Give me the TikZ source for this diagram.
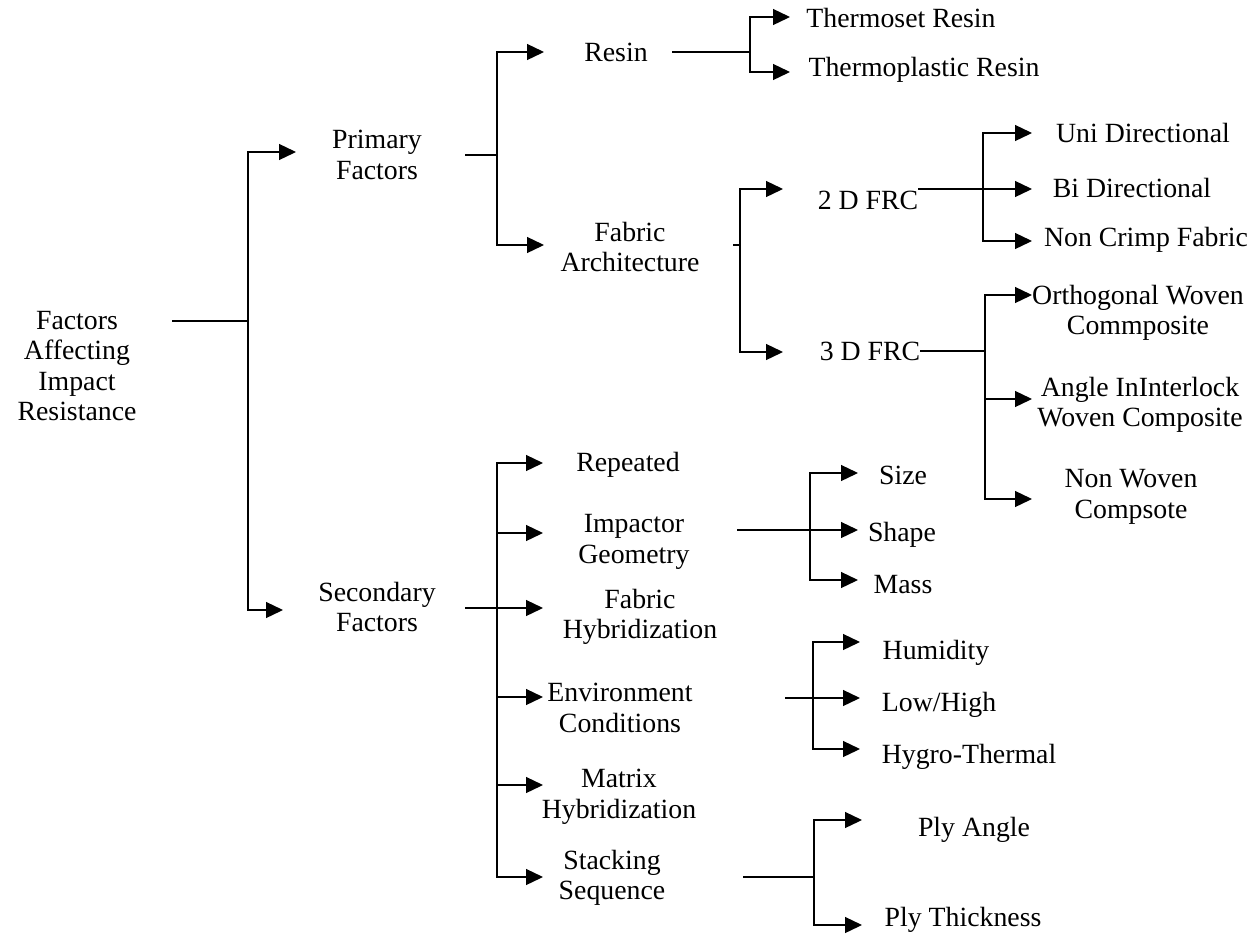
\documentclass[tikz,border=0pt]{standalone}
\usepackage{fontspec}
\setmainfont{Liberation Serif}
\usetikzlibrary{arrows.meta}
\begin{document}
\begin{tikzpicture}[x=1pt,y=-1pt,
  lbl/.style={font=\fontsize{27.8}{30.5}\selectfont, align=center, inner sep=0pt},
  conn/.style={line width=1.3pt, line join=miter},
  arr/.style={conn, -{Triangle[length=17pt,width=16pt]}}]
\useasboundingbox (0,0) rectangle (1251,935);

% ---------- nodes ----------
\node[lbl] (root) at (77,366) {Factors\\Affecting\\Impact\\Resistance};
\node[lbl] (prim) at (377,155) {Primary\\Factors};
\node[lbl] (sec) at (377,607) {Secondary\\Factors};
\node[lbl] (resin) at (616,52) {Resin};
\node[lbl] (fab) at (630,247) {Fabric\\Architecture};
\node[lbl] (tset) at (901,18) {Thermoset Resin};
\node[lbl] (tpl) at (924,70) {Thermoplastic Resin};
\node[lbl] (twod) at (868,200) {2 D FRC};
\node[lbl] (threed) at (870,351) {3 D FRC};
\node[lbl] (uni) at (1143,133) {Uni Directional};
\node[lbl] (bi) at (1132,188) {Bi Directional};
\node[lbl] (ncf) at (1146,240) {Non Crimp Fabric};
\node[lbl] (orth) at (1138,313) {Orthogonal Woven\\Commposite};
\node[lbl] (angle) at (1140,405) {Angle InInterlock\\Woven Composite};
\node[lbl] (nonw) at (1131,497) {Non Woven\\Compsote};
\node[lbl] (rep) at (628,465) {Repeated};
\node[lbl] (imp) at (634,542) {Impactor\\Geometry};
\node[lbl] (fhyb) at (640,617) {Fabric\\Hybridization};
\node[lbl] (env) at (620,708) {Environment\\Conditions};
\node[lbl] (mhyb) at (619,797) {Matrix\\Hybridization};
\node[lbl] (stack) at (612,878) {Stacking\\Sequence};
\node[lbl] (size) at (903,475) {Size};
\node[lbl] (shape) at (902,535) {Shape};
\node[lbl] (mass) at (903,585) {Mass};
\node[lbl] (hum) at (936,653) {Humidity};
\node[lbl] (lowhigh) at (939,705) {Low/High};
\node[lbl] (hygro) at (969,757) {Hygro-Thermal};
\node[lbl] (plya) at (974,830) {Ply Angle};
\node[lbl] (plyt) at (963,920) {Ply Thickness};

% ---------- coordinates ----------
\coordinate (rS) at (172,321);  \coordinate (rJ) at (248,321);
\coordinate (tPrim) at (296,152); \coordinate (tSec) at (283,610);
\coordinate (pS) at (465,155);  \coordinate (pJ) at (497,155);
\coordinate (tResin) at (544,52); \coordinate (tFab) at (544,245);
\coordinate (reS) at (672,52);  \coordinate (reJ) at (750,52);
\coordinate (tTset) at (790,17); \coordinate (tTpl) at (790,72);
\coordinate (fS) at (733,245);  \coordinate (fJ) at (740,245);
\coordinate (tTwod) at (783,189); \coordinate (tThreed) at (783,352);
\coordinate (twS) at (918,189);  \coordinate (twJ) at (983,189);
\coordinate (tUni) at (1032,133); \coordinate (tBi) at (1032,189); \coordinate (tNcf) at (1032,241);
\coordinate (thS) at (920,351);  \coordinate (thJ) at (985,351);
\coordinate (tOrth) at (1032,295); \coordinate (tAngle) at (1032,399); \coordinate (tNonw) at (1032,499);
\coordinate (sS) at (465,608);  \coordinate (sJ) at (497,608);
\coordinate (tRep) at (543,463); \coordinate (tImp) at (543,533); \coordinate (tFhyb) at (543,608);
\coordinate (tEnv) at (543,697); \coordinate (tMhyb) at (543,785); \coordinate (tStack) at (543,877);
\coordinate (iS) at (737,530);  \coordinate (iJ) at (810,530);
\coordinate (tSize) at (858,473); \coordinate (tShape) at (858,530); \coordinate (tMass) at (858,580);
\coordinate (eS) at (785,698);  \coordinate (eJ) at (813,698);
\coordinate (tHum) at (860,642); \coordinate (tLow) at (860,698); \coordinate (tHyg) at (860,749);
\coordinate (stS) at (743,877); \coordinate (stJ) at (814,877);
\coordinate (tPlya) at (862,820); \coordinate (tPlyt) at (862,925);

% ---------- connectors ----------
\draw[conn] (rS) -- (rJ);
\draw[arr] (rJ) |- (tPrim);
\draw[arr] (rJ) |- (tSec);

\draw[conn] (pS) -- (pJ);
\draw[arr] (pJ) |- (tResin);
\draw[arr] (pJ) |- (tFab);

\draw[conn] (reS) -- (reJ);
\draw[arr] (reJ) |- (tTset);
\draw[arr] (reJ) |- (tTpl);

\draw[conn] (fS) -- (fJ);
\draw[arr] (fJ) |- (tTwod);
\draw[arr] (fJ) |- (tThreed);

\draw[arr] (twS) -- (tBi);
\draw[arr] (twJ) |- (tUni);
\draw[arr] (twJ) |- (tNcf);

\draw[conn] (thS) -- (thJ);
\draw[arr] (thJ) |- (tOrth);
\draw[arr] (thJ) |- (tAngle);
\draw[arr] (thJ) |- (tNonw);

\draw[conn] (sS) -- (sJ);
\draw[arr] (sJ) |- (tRep);
\draw[arr] (sJ) |- (tImp);
\draw[arr] (sJ) -- (tFhyb);
\draw[arr] (sJ) |- (tEnv);
\draw[arr] (sJ) |- (tMhyb);
\draw[arr] (sJ) |- (tStack);

\draw[conn] (iS) -- (iJ);
\draw[arr] (iJ) |- (tSize);
\draw[arr] (iJ) -- (tShape);
\draw[arr] (iJ) |- (tMass);

\draw[conn] (eS) -- (eJ);
\draw[arr] (eJ) |- (tHum);
\draw[arr] (eJ) -- (tLow);
\draw[arr] (eJ) |- (tHyg);

\draw[conn] (stS) -- (stJ);
\draw[arr] (stJ) |- (tPlya);
\draw[arr] (stJ) |- (tPlyt);
\end{tikzpicture}
\end{document}
